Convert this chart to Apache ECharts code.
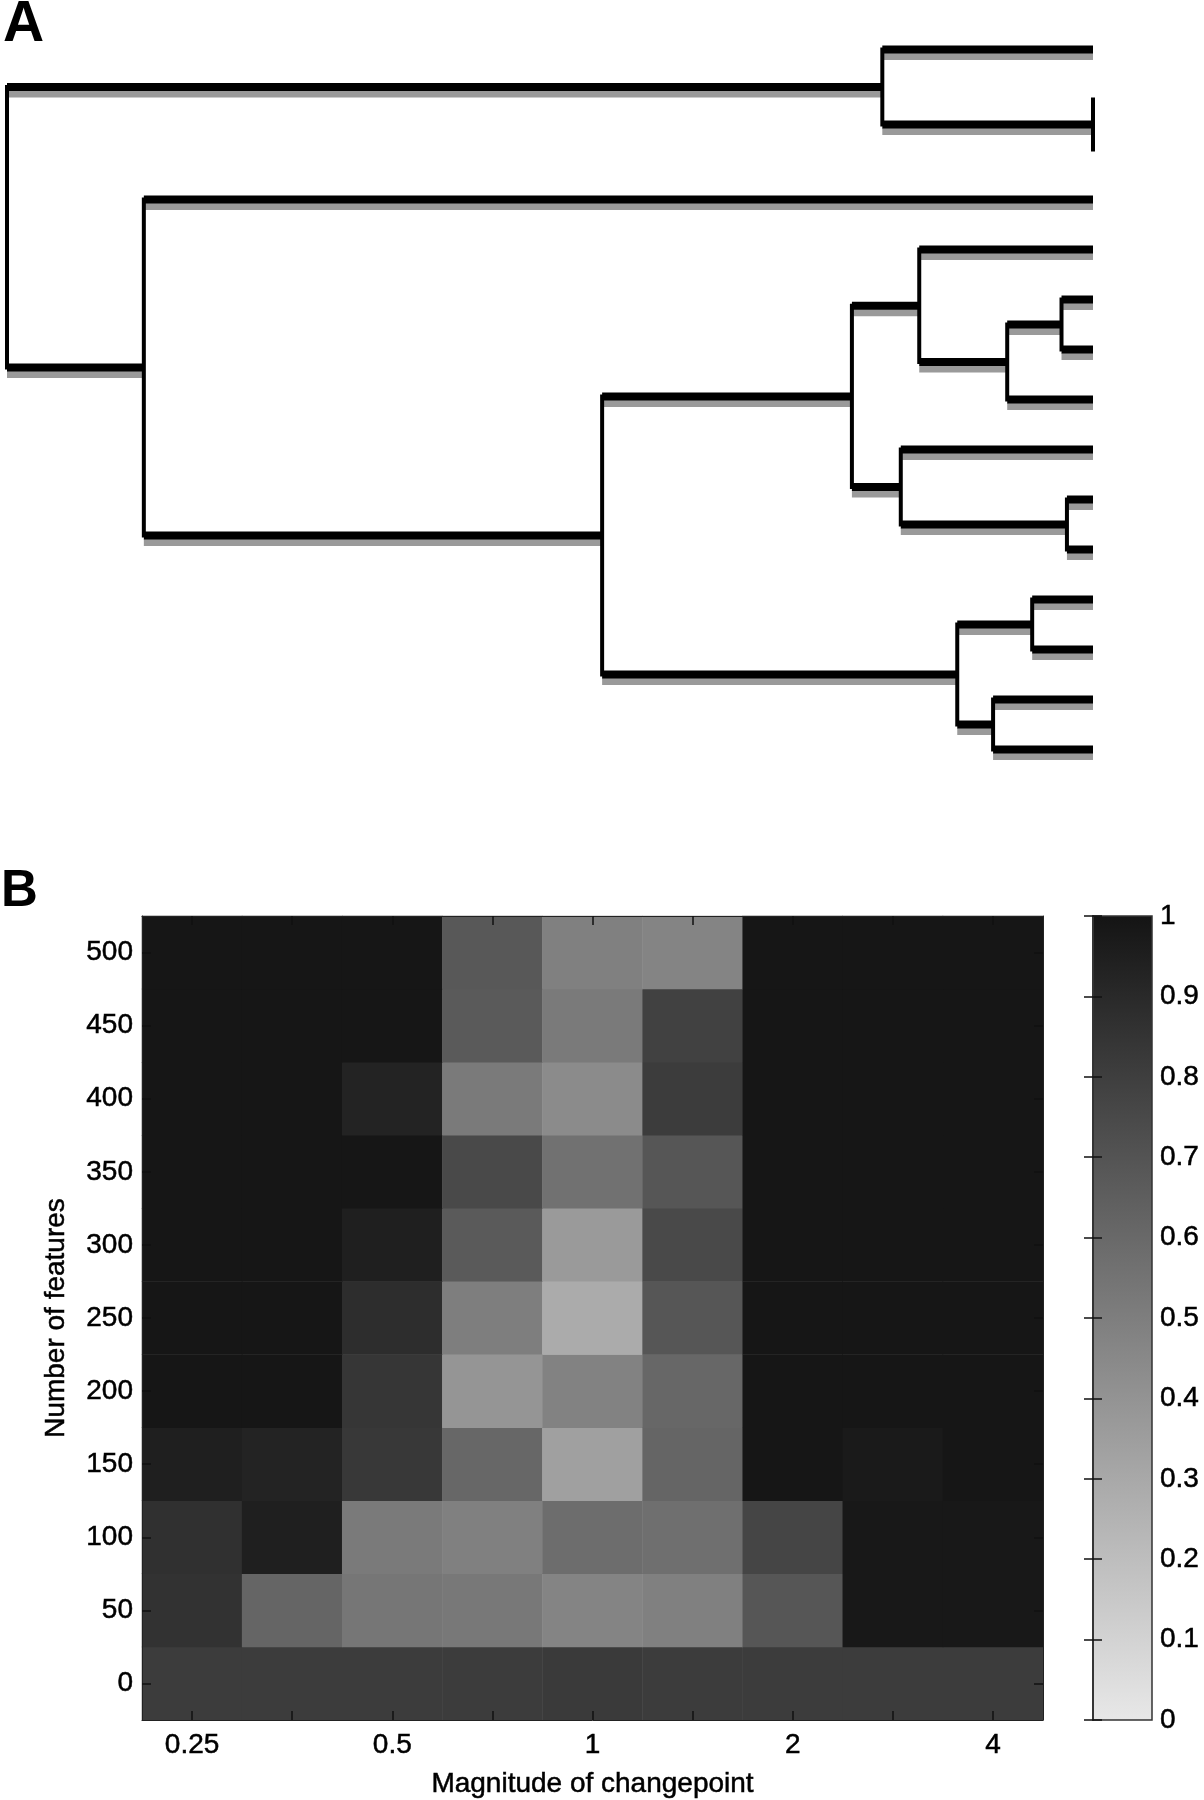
<!DOCTYPE html>
<html>
<head>
<meta charset="utf-8">
<script src="https://cdn.jsdelivr.net/npm/echarts@6/dist/echarts.min.js"></script>
<style>
html,body{margin:0;padding:0;background:#fff;}
#main{width:1204px;height:1800px;}
</style>
</head>
<body>
<div id="main"></div>
<script>
// ---------- Panel A: dendrogram (linkage table) ----------
const leafCount = 15;
const linkLeft   = [2, 10, 6, 12, 18, 14, 19, 5, 9, 1, 23, 26, 4, 25];
const linkRight  = [3, 11, 7, 13, 8, 15, 21, 20, 17, 16, 24, 22, 27, 28];
const linkHeight = [0.000, 0.024, 0.029, 0.056, 0.079, 0.092, 0.125, 0.160, 0.177, 0.194, 0.222, 0.452, 0.874, 1.000];

// ---------- Panel B: heatmap ----------
const magnitudes = ['0.25', '0.35', '0.5', '0.71', '1', '1.41', '2', '2.83', '4'];
const featureCounts = ['0', '50', '100', '150', '200', '250', '300', '350', '400', '450', '500'];
// rows from 0 features (bottom) to 500 features (top), columns follow magnitudes
const row0   = [0.81, 0.81, 0.81, 0.81, 0.82, 0.81, 0.81, 0.81, 0.81];
const row50  = [0.86, 0.62, 0.54, 0.53, 0.47, 0.49, 0.69, 0.98, 0.98];
const row100 = [0.87, 0.95, 0.52, 0.49, 0.58, 0.57, 0.77, 0.98, 0.98];
const row150 = [0.95, 0.93, 0.83, 0.61, 0.34, 0.62, 0.99, 0.97, 0.99];
const row200 = [0.99, 0.99, 0.84, 0.39, 0.48, 0.61, 0.99, 0.99, 0.99];
const row250 = [0.99, 0.99, 0.88, 0.50, 0.29, 0.69, 0.99, 0.99, 0.99];
const row300 = [0.99, 0.99, 0.95, 0.67, 0.37, 0.75, 0.99, 0.99, 0.99];
const row350 = [0.99, 0.99, 0.99, 0.75, 0.56, 0.69, 0.99, 0.99, 0.99];
const row400 = [0.99, 0.99, 0.93, 0.52, 0.44, 0.81, 0.99, 0.99, 0.99];
const row450 = [0.99, 0.99, 0.99, 0.67, 0.52, 0.79, 0.99, 0.99, 0.99];
const row500 = [0.99, 0.99, 0.99, 0.68, 0.49, 0.47, 0.99, 0.99, 0.99];
const rows = [row0, row50, row100, row150, row200, row250, row300, row350, row400, row450, row500];

const colorbarMin = 0;
const colorbarMax = 1;
const colorLow = '#e8e8e8';
const colorHigh = '#141414';

const FONT = '"Liberation Sans", Arial, Helvetica, sans-serif';

// ---- derive dendrogram segments from the linkage table ----
const nodeY = {}, nodeH = {};
for (let i = 1; i <= leafCount; i++) { nodeY[i] = i; nodeH[i] = 0; }
const hSegs = [], vSegs = [];
linkLeft.forEach(function (a, k) {
  const b = linkRight[k], h = linkHeight[k], id = leafCount + 1 + k;
  vSegs.push([h, nodeY[a], h, nodeY[b], 1]);
  [a, b].forEach(function (c) {
    if (h > nodeH[c]) hSegs.push([nodeH[c], nodeY[c], h, nodeY[c], 0]);
  });
  nodeY[id] = (nodeY[a] + nodeY[b]) / 2;
  nodeH[id] = h;
});

// ---- heatmap data ----
const heatData = [];
rows.forEach(function (r, ri) {
  r.forEach(function (v, ci) { heatData.push([ci, ri, v]); });
});

function segRender(offset, color, hWidth, vWidth) {
  return function (params, api) {
    const p1 = api.coord([api.value(0), api.value(1)]);
    const p2 = api.coord([api.value(2), api.value(3)]);
    const vertical = api.value(4) === 1;
    return {
      type: 'line',
      shape: { x1: p1[0], y1: p1[1] + offset, x2: p2[0], y2: p2[1] + offset },
      style: {
        stroke: color,
        lineWidth: vertical ? vWidth : hWidth,
        lineCap: vertical ? 'square' : 'butt'
      }
    };
  };
}

const txt = { fontSize: 28, color: '#000', fontFamily: FONT, textBorderColor: '#000', textBorderWidth: 0.5 };
const axisLineStyle = { show: true, lineStyle: { color: '#222', width: 1 } };
const tickStyle = { show: true, inside: true, length: 9, lineStyle: { color: '#111', width: 1.5 } };

const option = {
  animation: false,
  backgroundColor: '#ffffff',
  title: [
    { text: 'A', left: 3, top: -3, padding: 0,
      textStyle: { fontSize: 57, fontWeight: 'bold', fontFamily: FONT, color: '#000' } },
    { text: 'B', left: 1, top: 866, padding: 0,
      textStyle: { fontSize: 51, fontWeight: 'bold', fontFamily: FONT, color: '#000' } }
  ],
  grid: [
    { left: 7, top: 24.5, width: 1086, height: 750 },
    { left: 142, top: 916, width: 901, height: 804 },
    { left: 1093, top: 916, width: 59, height: 804 }
  ],
  xAxis: [
    { gridIndex: 0, type: 'value', min: 0, max: 1, inverse: true, show: false },
    { gridIndex: 1, type: 'category', data: magnitudes, position: 'bottom', z: 10,
      axisLine: axisLineStyle,
      axisTick: Object.assign({ alignWithLabel: true, interval: 0 }, tickStyle),
      axisLabel: Object.assign({ interval: 1, margin: 11 }, txt),
      splitLine: { show: false },
      name: 'Magnitude of changepoint', nameLocation: 'middle', nameGap: 50,
      nameTextStyle: txt },
    { gridIndex: 1, type: 'category', data: magnitudes, position: 'top', z: 10,
      axisLine: axisLineStyle,
      axisTick: Object.assign({ alignWithLabel: true, interval: 0 }, tickStyle),
      axisLabel: { show: false }, splitLine: { show: false } },
    { gridIndex: 2, type: 'value', min: 0, max: 1, show: false }
  ],
  yAxis: [
    { gridIndex: 0, type: 'value', min: 0.5, max: leafCount + 0.5, inverse: true, show: false },
    { gridIndex: 1, type: 'category', data: featureCounts, position: 'left', z: 10,
      axisLine: axisLineStyle,
      axisTick: Object.assign({ alignWithLabel: true, interval: 0 }, tickStyle),
      axisLabel: Object.assign({ interval: 0, margin: 9 }, txt),
      splitLine: { show: false },
      name: 'Number of features', nameLocation: 'middle', nameGap: 72,
      nameTextStyle: txt },
    { gridIndex: 1, type: 'category', data: featureCounts, position: 'right', z: 10,
      axisLine: axisLineStyle,
      axisTick: Object.assign({ alignWithLabel: true, interval: 0 }, tickStyle),
      axisLabel: { show: false }, splitLine: { show: false } },
    { gridIndex: 2, type: 'value', min: colorbarMin, max: colorbarMax, interval: 0.1, position: 'right', z: 10,
      axisLine: { show: true, lineStyle: { color: '#333', width: 1.5 } },
      axisTick: tickStyle,
      axisLabel: Object.assign({ margin: 8 }, txt),
      splitLine: { show: false } },
    { gridIndex: 2, type: 'value', min: colorbarMin, max: colorbarMax, interval: 0.1, position: 'left', z: 10,
      axisLine: { show: true, lineStyle: { color: '#333', width: 1.5 } },
      axisTick: tickStyle,
      axisLabel: { show: false }, splitLine: { show: false } }
  ],
  visualMap: {
    show: false, type: 'continuous', min: colorbarMin, max: colorbarMax,
    seriesIndex: 2, dimension: 2,
    inRange: { color: [colorLow, colorHigh] }
  },
  series: [
    { type: 'custom', xAxisIndex: 0, yAxisIndex: 0, clip: false, silent: true,
      data: hSegs, renderItem: segRender(7, '#9a9a9a', 7, 0) },
    { type: 'custom', xAxisIndex: 0, yAxisIndex: 0, clip: false, silent: true,
      data: hSegs.concat(vSegs), renderItem: segRender(0, '#000', 8, 4) },
    { type: 'heatmap', xAxisIndex: 1, yAxisIndex: 1, data: heatData, silent: true,
      itemStyle: { borderWidth: 0 }, emphasis: { disabled: true } },
    { type: 'custom', xAxisIndex: 3, yAxisIndex: 3, clip: false, silent: true,
      data: [[colorbarMin, colorbarMax]],
      renderItem: function (params, api) {
        const pTop = api.coord([0, api.value(1)]);
        const pBot = api.coord([1, api.value(0)]);
        return {
          type: 'rect',
          shape: { x: pTop[0], y: pTop[1], width: pBot[0] - pTop[0], height: pBot[1] - pTop[1] },
          style: {
            fill: new echarts.graphic.LinearGradient(0, 0, 0, 1, [
              { offset: 0, color: colorHigh }, { offset: 1, color: colorLow }
            ]),
            stroke: '#333', lineWidth: 1.5
          }
        };
      } }
  ]
};

const chart = echarts.init(document.getElementById('main'), null, { renderer: 'canvas' });
chart.setOption(option);
</script>
</body>
</html>
